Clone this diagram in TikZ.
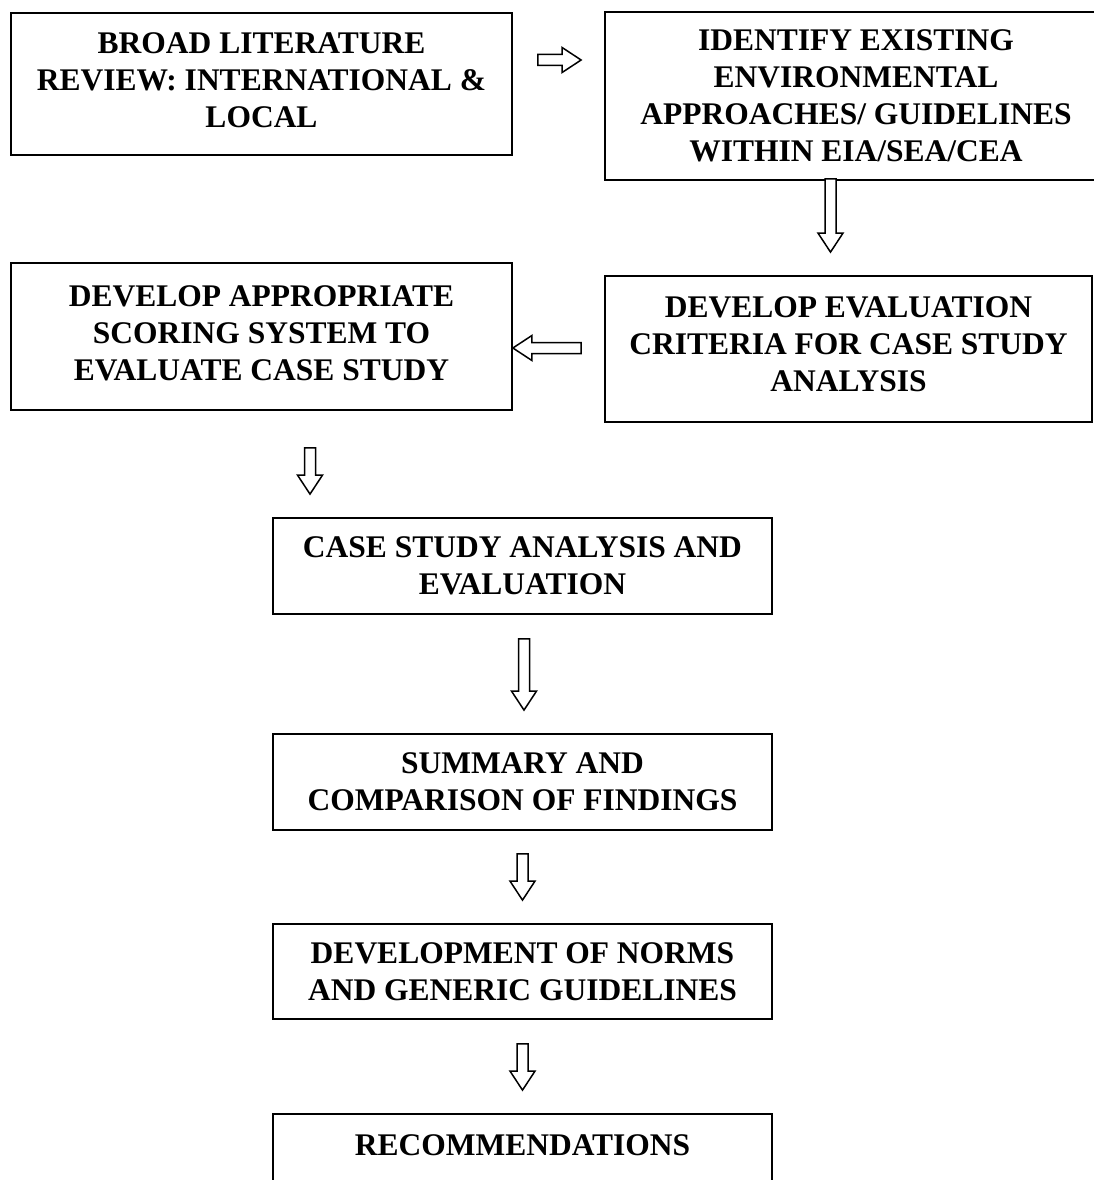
\documentclass[tikz,border=0pt]{standalone}
\usepackage{fontspec}
\setmainfont{Liberation Serif}
\usetikzlibrary{calc}
\tikzset{
  stage/.style={
    rectangle,
    draw,
    line width=1.8pt,
    inner sep=0pt,
    font=\bfseries\fontsize{31.5}{37}\selectfont,
    align=center
  },
  flow/.style={
    draw,
    fill=white,
    line width=1.5pt,
    to path={
      ($(\tikztotarget)!19pt!(\tikztostart)$) coordinate (fh)
      ($(\tikztostart)!5.5pt!90:(\tikztotarget)$)
      -- ($(fh)!5.5pt!90:(\tikztotarget)$)
      -- ($(fh)!12.5pt!90:(\tikztotarget)$)
      -- (\tikztotarget)
      -- ($(fh)!12.5pt!-90:(\tikztotarget)$)
      -- ($(fh)!5.5pt!-90:(\tikztotarget)$)
      -- ($(\tikztostart)!5.5pt!-90:(\tikztotarget)$)
      -- cycle
    }
  }
}

\begin{document}
\begin{tikzpicture}[x=1pt, y=-1pt]
        \useasboundingbox (0,0) rectangle (1093,1180);

        % Define the nodes
        \node[stage, minimum width=501pt, minimum height=142pt, text depth=8pt] (b1) at (261.5,84)
            {BROAD LITERATURE\\REVIEW: INTERNATIONAL \&\\LOCAL};
        \node[stage, minimum width=502pt, minimum height=168pt] (b2) at (856,96)
            {IDENTIFY EXISTING\\ENVIRONMENTAL\\APPROACHES/ GUIDELINES\\WITHIN EIA/SEA/CEA};
        \node[stage, minimum width=501pt, minimum height=147pt, text depth=6pt] (b3) at (261.5,336.5)
            {DEVELOP APPROPRIATE\\SCORING SYSTEM TO\\EVALUATE CASE STUDY};
        \node[stage, minimum width=487pt, minimum height=146pt, text depth=10pt] (b4) at (848.5,349)
            {DEVELOP EVALUATION\\CRITERIA FOR CASE STUDY\\ANALYSIS};
        \node[stage, minimum width=499pt, minimum height=96pt] (b5) at (522.5,566)
            {CASE STUDY ANALYSIS AND\\EVALUATION};
        \node[stage, minimum width=499pt, minimum height=96pt] (b6) at (522.5,782)
            {SUMMARY AND\\COMPARISON OF FINDINGS};
        \node[stage, minimum width=499pt, minimum height=95pt] (b7) at (522.5,971.5)
            {DEVELOPMENT OF NORMS\\AND GENERIC GUIDELINES};
        \node[stage, minimum width=499pt, minimum height=96pt, text depth=34pt] (b8) at (522.5,1162)
            {RECOMMENDATIONS};

        % Arrows between the steps
        \draw[flow] ([xshift=25pt,yshift=24pt]b1.east) to ([xshift=-23pt,yshift=36pt]b2.west);
        \draw[flow] ([xshift=-25.5pt,yshift=2pt]b2.south) to ([xshift=-18pt,yshift=23pt]b4.north);
        \draw[flow] ([xshift=-23pt,yshift=1pt]b4.west) to ([yshift=-11.5pt]b3.east);
        \draw[flow] ([xshift=48.5pt,yshift=-37pt]b3.south) to ([xshift=-212.5pt,yshift=23pt]b5.north);
        \draw[flow] ([xshift=1.5pt,yshift=-24pt]b5.south) to ([xshift=1.5pt,yshift=23pt]b6.north);
        \draw[flow] ([yshift=-23pt]b6.south) to ([yshift=23pt]b7.north);
        \draw[flow] ([yshift=-24pt]b7.south) to ([yshift=23pt]b8.north);
\end{tikzpicture}
\end{document}
